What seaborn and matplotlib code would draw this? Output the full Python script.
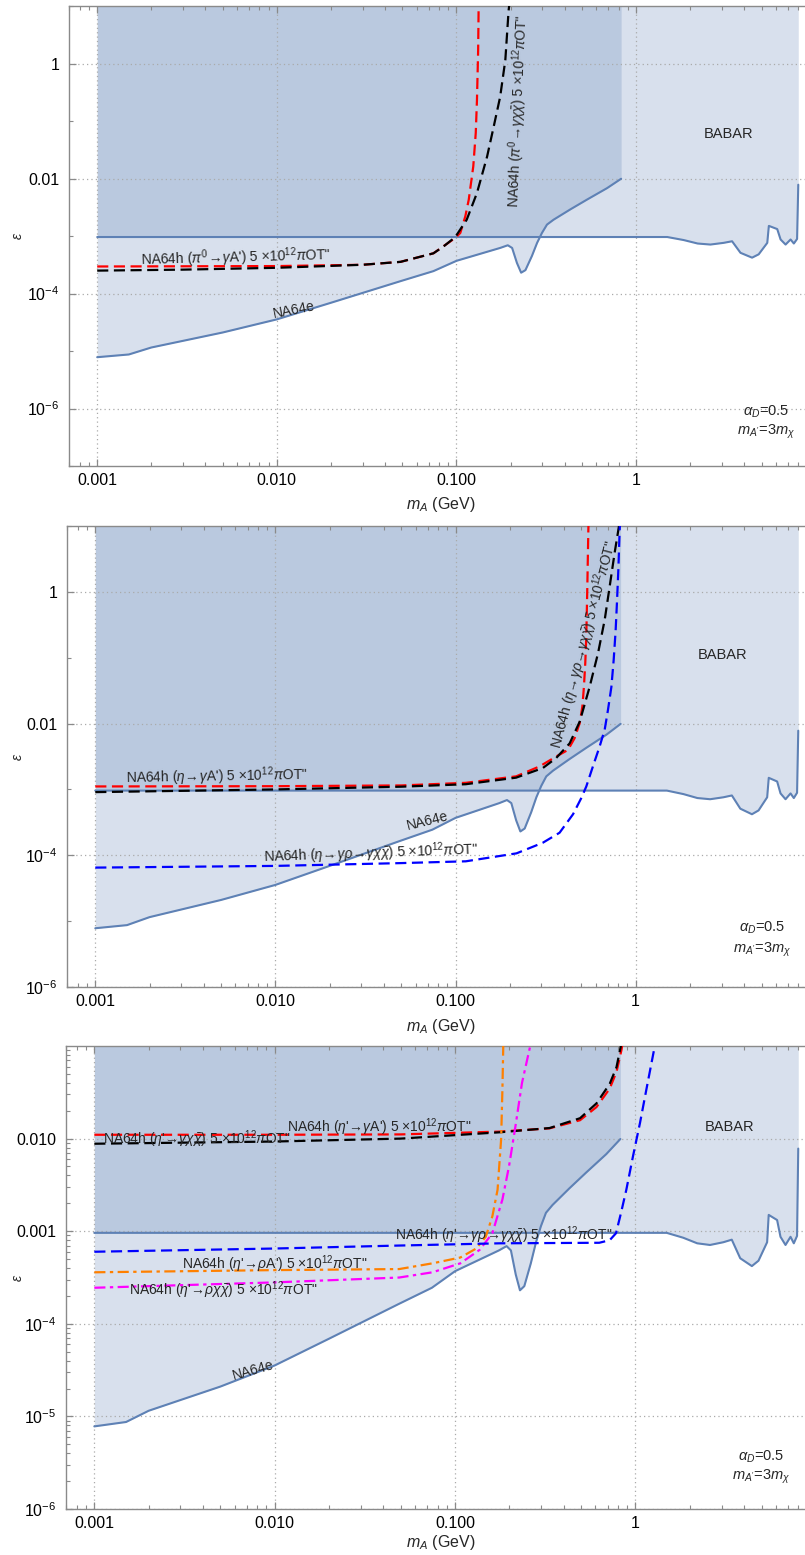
import numpy as np
import matplotlib
matplotlib.use('Agg')
import matplotlib.pyplot as plt
import matplotlib.ticker as mticker
import seaborn as sns

# Данные (m_A в ГэВ, epsilon)
na64e_x = [0.001, 0.0015, 0.002, 0.005, 0.01, 0.02, 0.0488, 0.0744, 0.1, 0.175, 0.193, 0.204,
           0.217, 0.229, 0.242, 0.263, 0.281, 0.299, 0.319, 0.347, 0.43, 0.533, 0.689, 0.825]
na64e_y = [7.8e-6, 8.7e-6, 1.15e-5, 2.1e-5, 3.55e-5, 6.9e-5, 1.64e-4, 2.45e-4, 3.7e-4, 6.2e-4, 6.9e-4, 6.2e-4,
           3.4e-4, 2.3e-4, 2.55e-4, 4.5e-4, 7.6e-4, 1.13e-3, 1.58e-3, 1.92e-3, 2.9e-3, 4.3e-3, 6.8e-3, 9.9e-3]

babar_x = [0.001, 1.49, 1.84, 2.2, 2.59, 3.07, 3.42, 3.81, 4.42, 4.81, 5.37, 5.48, 6.1, 6.37, 6.79,
           7.24, 7.55, 7.87, 7.99]
babar_y = [9.6e-4, 9.6e-4, 8.5e-4, 7.4e-4, 7.1e-4, 7.6e-4, 8.1e-4, 5.1e-4, 4.2e-4, 4.8e-4, 7.6e-4, 1.5e-3,
           1.32e-3, 8.7e-4, 7.1e-4, 8.7e-4, 7.4e-4, 8.9e-4, 7.8e-3]

# Панель 1: pi0
pi_gA_x = [0.001, 0.01, 0.03, 0.0488, 0.0744, 0.0987, 0.105, 0.112, 0.117, 0.124, 0.128, 0.130, 0.132,
           0.1328, 0.133]
pi_gA_y = [2.95e-4, 3.0e-4, 3.16e-4, 3.55e-4, 5.0e-4, 9.3e-4, 1.13e-3, 2.2e-3, 4.27e-3, 1.62e-2, 6.2e-2,
           0.231, 1.7, 9.5, 12.6]
pi_gxx_x = [0.001, 0.003, 0.01, 0.03, 0.0488, 0.0744, 0.0848, 0.0985, 0.114, 0.130, 0.148, 0.161, 0.175,
            0.187, 0.195, 0.198]
pi_gxx_y = [2.5e-4, 2.6e-4, 2.8e-4, 3.16e-4, 3.55e-4, 5.0e-4, 6.6e-4, 9.6e-4, 1.92e-3, 5.6e-3, 2.4e-2,
            7.9e-2, 0.263, 1.15, 8.3, 12.6]

# Панель 2: eta
eta_gA_x = [0.001, 0.01, 0.05, 0.114, 0.217, 0.293, 0.362, 0.421, 0.458, 0.489, 0.506, 0.516, 0.525,
            0.532, 0.539, 0.546, 0.548]
eta_gA_y = [1.11e-3, 1.12e-3, 1.15e-3, 1.26e-3, 1.58e-3, 2.24e-3, 3.16e-3, 3.98e-3, 6.0e-3, 1.02e-2,
            1.82e-2, 3.6e-2, 8.3e-2, 0.21, 1.2, 8.7, 12.6]
eta_gxx_x = [0.001, 0.01, 0.05, 0.114, 0.217, 0.305, 0.362, 0.43, 0.489, 0.555, 0.618, 0.673, 0.717,
             0.764, 0.807, 0.812]
eta_gxx_y = [9.1e-4, 1.0e-3, 1.1e-3, 1.2e-3, 1.51e-3, 2.11e-3, 3.0e-3, 5.0e-3, 1.07e-2, 3.6e-2, 0.117,
             0.376, 1.2, 3.9, 9.8, 12.6]
eta_grho_x = [0.001, 0.01, 0.049, 0.114, 0.218, 0.305, 0.378, 0.449, 0.499, 0.532, 0.579, 0.631, 0.673,
              0.702, 0.733, 0.755, 0.774, 0.787, 0.801, 0.815, 0.82]
eta_grho_y = [6.5e-5, 6.9e-5, 7.6e-5, 8.1e-5, 1.07e-4, 1.55e-4, 2.2e-4, 4.2e-4, 7.4e-4, 1.11e-3, 2.24e-3,
              4.5e-3, 8.1e-3, 1.62e-2, 3.6e-2, 9.3e-2, 0.26, 0.68, 2.1, 8.7, 12.6]

# Панель 3: eta'
etap_gA_x = [0.001, 0.01, 0.05, 0.177, 0.334, 0.493, 0.608, 0.72, 0.785, 0.837, 0.85]
etap_gA_y = [0.011, 0.011, 0.0111, 0.0119, 0.0129, 0.0158, 0.0219, 0.0347, 0.0525, 0.091, 0.112]
etap_gxx_x = [0.001, 0.01, 0.05, 0.177, 0.334, 0.493, 0.608, 0.72, 0.785, 0.83, 0.84]
etap_gxx_y = [0.0088, 0.0093, 0.010, 0.0117, 0.0130, 0.0166, 0.024, 0.039, 0.059, 0.1, 0.112]
etap_rA_x = [0.001, 0.01, 0.049, 0.075, 0.107, 0.131, 0.148, 0.161, 0.172, 0.180, 0.183, 0.185, 0.186]
etap_rA_y = [3.6e-4, 3.8e-4, 3.9e-4, 4.5e-4, 5.2e-4, 6.5e-4, 8.7e-4, 1.45e-3, 2.8e-3, 9.8e-3, 3.4e-2, 0.1, 0.112]
etap_rxx_x = [0.001, 0.01, 0.049, 0.075, 0.107, 0.137, 0.161, 0.183, 0.199, 0.216, 0.235, 0.261, 0.265]
etap_rxx_y = [2.45e-4, 2.8e-4, 3.16e-4, 3.6e-4, 4.5e-4, 6.3e-4, 9.5e-4, 2.2e-3, 5.0e-3, 1.35e-2, 4.0e-2, 0.1, 0.112]
etap_grho_x = [0.001, 0.01, 0.049, 0.177, 0.63, 0.72, 0.78, 0.83, 0.89, 0.97, 1.06, 1.15, 1.28, 1.30]
etap_grho_y = [6.0e-4, 6.5e-4, 7.0e-4, 7.4e-4, 7.5e-4, 8.0e-4, 9.5e-4, 1.55e-3, 2.8e-3, 6.5e-3, 1.48e-2,
               3.4e-2, 0.1, 0.112]

# Подписи осей
x_ticks = [0.001, 0.01, 0.1, 1]
x_ticklabels = ['0.001', '0.010', '0.100', '1']
y_ticks_12 = [1, 0.01, 1e-4, 1e-6]
y_ticklabels_12 = ['1', '0.01', '$10^{-4}$', '$10^{-6}$']
y_minor_12 = [10, 0.1, 1e-3, 1e-5, 1e-7]
y_ticks_3 = [0.01, 0.001, 1e-4, 1e-5, 1e-6]
y_ticklabels_3 = ['0.010', '0.001', '$10^{-4}$', '$10^{-5}$', '$10^{-6}$']

# Стиль
sns.set_style('ticks')
plt.rcParams['font.family'] = ['Liberation Sans', 'DejaVu Sans']
plt.rcParams['mathtext.fontset'] = 'custom'
plt.rcParams['mathtext.rm'] = 'Liberation Sans'
plt.rcParams['mathtext.it'] = 'Liberation Sans:italic'
plt.rcParams['mathtext.bf'] = 'Liberation Sans:bold'

LINE_COLOR = '#5E81B5'
FRAME_COLOR = '#8a8a8a'
GRID_COLOR = '#aaaaaa'
XLIM = (10 ** -3.157, 10 ** 0.94)
LBL = 10
POT = r' 5 $\times10^{12}\pi$OT"'

fig = plt.figure(figsize=(8.05, 15.55), dpi=100)
ax1 = fig.add_axes([69 / 805, 1 - 466 / 1555, 1 - 69 / 805, 460 / 1555])
ax2 = fig.add_axes([67 / 805, 1 - 987 / 1555, 1 - 67 / 805, 461 / 1555])
ax3 = fig.add_axes([66 / 805, 1 - 1509 / 1555, 1 - 66 / 805, 463 / 1555])


def base(ax, ylim, yticks, ylabels, yminor, xlab_y):
    ax.set_xscale('log')
    ax.set_yscale('log')
    ax.fill_between(babar_x, babar_y, 1e3, color=LINE_COLOR, alpha=0.24, lw=0, zorder=1)
    ax.fill_between(na64e_x, na64e_y, 1e3, color=LINE_COLOR, alpha=0.24, lw=0, zorder=1)
    sns.lineplot(x=babar_x, y=babar_y, ax=ax, color=LINE_COLOR, lw=1.5, sort=False, estimator=None)
    sns.lineplot(x=na64e_x, y=na64e_y, ax=ax, color=LINE_COLOR, lw=1.5, sort=False, estimator=None)
    ax.set_xlim(*XLIM)
    ax.set_ylim(*ylim)
    ax.xaxis.set_major_locator(mticker.FixedLocator(x_ticks))
    ax.xaxis.set_major_formatter(mticker.FixedFormatter(x_ticklabels))
    ax.xaxis.set_minor_locator(mticker.LogLocator(base=10, subs=np.arange(2, 10)))
    ax.xaxis.set_minor_formatter(mticker.NullFormatter())
    ax.yaxis.set_major_locator(mticker.FixedLocator(yticks))
    ax.yaxis.set_major_formatter(mticker.FixedFormatter(ylabels))
    if yminor is None:
        ax.yaxis.set_minor_locator(mticker.LogLocator(base=10, subs=np.arange(2, 10)))
    else:
        ax.yaxis.set_minor_locator(mticker.FixedLocator(yminor))
    ax.yaxis.set_minor_formatter(mticker.NullFormatter())
    ax.set_axisbelow('line')
    ax.grid(True, which='major', color=GRID_COLOR, linestyle=(0, (1, 2.5)), lw=0.9)
    ax.tick_params(which='both', direction='in', top=True, right=False, color=FRAME_COLOR,
                   labelsize=11.5, labelcolor='black')
    ax.tick_params(which='major', length=5, width=0.9, pad=5)
    ax.tick_params(which='minor', length=3, width=0.8)
    ax.tick_params(axis='y', which='major', pad=7)
    for name, sp in ax.spines.items():
        sp.set_color(FRAME_COLOR)
        sp.set_linewidth(1.0)
    ax.spines['right'].set_visible(False)
    ax.set_xlabel(r'$m_A$ (GeV)', fontsize=11.5, va='center')
    ax.set_ylabel(r'$\epsilon$', fontsize=10, va='center')
    w = ax.get_position().width * 805
    h = ax.get_position().height * 1555
    ax.yaxis.set_label_coords(-(ax.get_position().x0 * 805 - 18) / w, 0.5)
    ax.xaxis.set_label_coords((441 - ax.get_position().x0 * 805) / w, -xlab_y / h)


def curve(ax, x, y, color, ls):
    sns.lineplot(x=x, y=y, ax=ax, color=color, linestyle=ls, lw=1.6, sort=False, estimator=None, zorder=3)


def label(ax, x, y, s, rot=0, size=LBL):
    ax.text(x, y, s, fontsize=size, rotation=rot, ha='center', va='center',
            rotation_mode='anchor', zorder=4)


DASH = (0, (5, 2.5))
DASHDOT = (0, (5, 2, 1.5, 2))
ETAP = r"$\eta$'$\!\rightarrow\!"

# Панель 1
base(ax1, (1e-7, 10), y_ticks_12, y_ticklabels_12, y_minor_12, 39)
curve(ax1, pi_gA_x, pi_gA_y, 'red', DASH)
curve(ax1, pi_gxx_x, pi_gxx_y, 'black', DASH)
label(ax1, 0.0059, 4.2e-4, r"NA64h ($\pi^0\!\rightarrow\!\gamma$A')" + POT, rot=1.5)
label(ax1, 0.22, 0.146, r"NA64h ($\pi^0\!\rightarrow\!\gamma\chi\bar{\chi}$)" + POT, rot=87.5)
label(ax1, 0.0124, 5.2e-5, 'NA64e', rot=11)
label(ax1, 3.25, 0.06, 'BABAR', size=10.5)
label(ax1, 5.28, 10 ** -6.06, r'$\alpha_D$=0.5', size=10.5)
label(ax1, 5.28, 10 ** -6.4, r"$m_{A'}$=3$m_\chi$", size=10.5)

# Панель 2
base(ax2, (1e-6, 10), y_ticks_12, y_ticklabels_12, y_minor_12, 40)
curve(ax2, eta_gA_x, eta_gA_y, 'red', DASH)
curve(ax2, eta_gxx_x, eta_gxx_y, 'black', DASH)
curve(ax2, eta_grho_x, eta_grho_y, 'blue', DASH)
label(ax2, 0.0047, 10 ** -2.80, r"NA64h ($\eta\!\rightarrow\!\gamma$A')" + POT, rot=1)
label(ax2, 0.034, 10 ** -3.97, r"NA64h ($\eta\!\rightarrow\!\gamma\rho\!\rightarrow\!\gamma\chi\bar{\chi}$)" + POT, rot=2)
label(ax2, 0.52, 0.158, r"NA64h ($\eta\!\rightarrow\!\gamma\rho\!\rightarrow\!\gamma\chi\bar{\chi}$)" + POT, rot=75)
label(ax2, 0.070, 3.3e-4, 'NA64e', rot=14)
label(ax2, 3.05, 0.11, 'BABAR', size=10.5)
label(ax2, 5.06, 10 ** -5.10, r'$\alpha_D$=0.5', size=10.5)
label(ax2, 5.06, 10 ** -5.43, r"$m_{A'}$=3$m_\chi$", size=10.5)

# Панель 3
base(ax3, (1e-6, 0.1), y_ticks_3, y_ticklabels_3, None, 34)
curve(ax3, etap_gA_x, etap_gA_y, 'red', DASH)
curve(ax3, etap_gxx_x, etap_gxx_y, 'black', DASH)
curve(ax3, etap_rA_x, etap_rA_y, '#ff8000', DASHDOT)
curve(ax3, etap_rxx_x, etap_rxx_y, '#ff00ff', DASHDOT)
curve(ax3, etap_grho_x, etap_grho_y, 'blue', DASH)
label(ax3, 0.0037, 10 ** -2.006, "NA64h (" + ETAP + r"\gamma\chi\bar{\chi}$)" + POT)
label(ax3, 0.038, 10 ** -1.88, "NA64h (" + ETAP + r"\gamma$A')" + POT)
label(ax3, 0.010, 10 ** -3.355, "NA64h (" + ETAP + r"\rho$A')" + POT)
label(ax3, 0.0052, 10 ** -3.64, "NA64h (" + ETAP + r"\rho\chi\bar{\chi}$)" + POT)
label(ax3, 0.185, 10 ** -3.04, "NA64h (" + ETAP + r"\gamma\rho\!\rightarrow\!\gamma\chi\bar{\chi}$)" + POT)
label(ax3, 0.0076, 10 ** -4.5, 'NA64e', rot=16)
label(ax3, 3.33, 10 ** -1.87, 'BABAR', size=10.5)
label(ax3, 5.0, 10 ** -5.44, r'$\alpha_D$=0.5', size=10.5)
label(ax3, 5.0, 10 ** -5.65, r"$m_{A'}$=3$m_\chi$", size=10.5)

fig.savefig('out.png', dpi=100)
plt.close(fig)
